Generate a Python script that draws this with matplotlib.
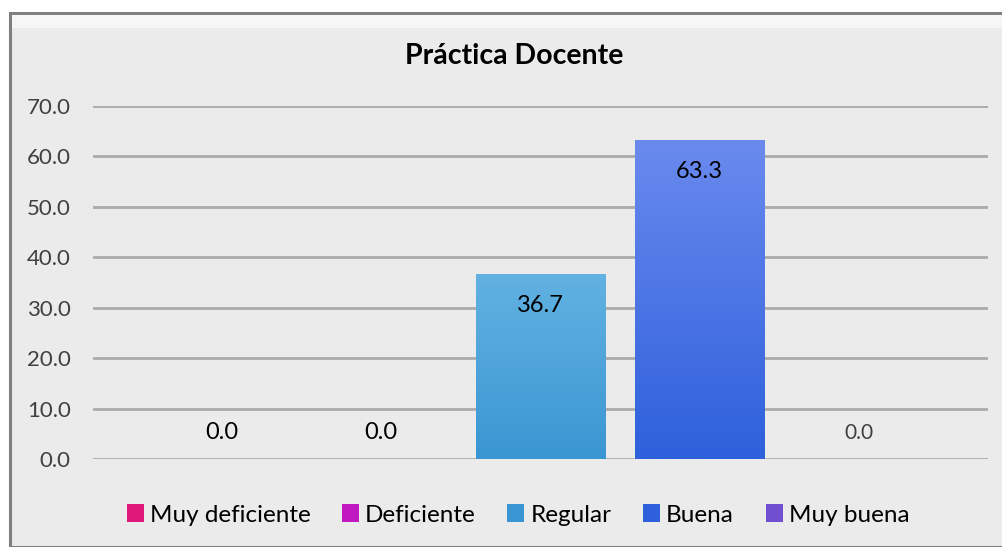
import numpy as np
import matplotlib.pyplot as plt
from matplotlib.patches import Rectangle
from matplotlib.colors import LinearSegmentedColormap

# datos
categorias = ["Muy deficiente", "Deficiente", "Regular", "Buena", "Muy buena"]
valores = [0.0, 0.0, 36.7, 63.3, 0.0]
etiquetas_y = [0, 10, 20, 30, 40, 50, 60, 70]
colores_arriba = ["#F0509A", "#D24CD6", "#62B2E2", "#6A8AEE", "#9070E0"]
colores_abajo = ["#E0187A", "#C018C0", "#3A96D2", "#2E60DC", "#7050D0"]

plt.rcParams['font.family'] = ['Lato', 'DejaVu Sans']

fig = plt.figure(figsize=(10.03, 5.47), dpi=100)
fig.patch.set_facecolor("white")

# marco del gráfico
marco = Rectangle((10 / 1003, 0), 1.2, 1 - 13 / 547, transform=fig.transFigure,
                  facecolor="#EBEBEB", edgecolor="#7F7F7F", linewidth=2.2, zorder=-5)
fig.patches.append(marco)
brillo = Rectangle((12 / 1003, 1 - 28 / 547), 1.2, 13 / 547, transform=fig.transFigure,
                   facecolor="#F6F6F6", edgecolor="none", zorder=-4)
fig.patches.append(brillo)

ax = fig.add_axes([93 / 1003, 1 - 459 / 547, (988 - 93) / 1003, (459 - 106) / 547])
ax.set_facecolor("none")

x = np.arange(len(categorias))
ancho = 0.815
barras = ax.bar(x, valores, width=ancho, color="none", zorder=2)

grad = np.linspace(0, 1, 256).reshape(-1, 1)
for i, b in enumerate(barras):
    if valores[i] <= 0:
        continue
    cmap = LinearSegmentedColormap.from_list("g", [colores_abajo[i], colores_arriba[i]])
    img = ax.imshow(grad, cmap=cmap, origin="lower", aspect="auto",
                    extent=[b.get_x(), b.get_x() + b.get_width(), 0, b.get_height()],
                    zorder=2)
    img.set_clip_path(b)

for i, v in enumerate(valores):
    if v > 0:
        ax.annotate(f"{v:.1f}", (x[i], v), xytext=(0, -22.5), textcoords="offset points",
                    ha="center", va="center", fontsize=17, color="black", zorder=3)
    elif i < 2:
        ax.annotate(f"{v:.1f}", (x[i], v), xytext=(0, 19), textcoords="offset points",
                    ha="center", va="center", fontsize=17, color="black", zorder=3)
    else:
        ax.annotate(f"{v:.1f}", (x[i], v), xytext=(0, 19), textcoords="offset points",
                    ha="center", va="center", fontsize=15, color="#404040", zorder=3)

ax.set_xlim(-0.81, 4.81)
ax.set_ylim(0, 70)
ax.set_yticks(etiquetas_y)
ax.set_yticklabels([f"{t:.1f}" for t in etiquetas_y], fontsize=16, color="#404040")
ax.set_xticks([])
ax.tick_params(axis="y", length=0, pad=16)
ax.grid(axis="y", color="#ABABAB", linewidth=2, zorder=1)
for s in ax.spines.values():
    s.set_visible(False)

fig.text(514 / 1003, 1 - 56 / 547, "Práctica Docente", ha="center", va="center",
         fontsize=20.5, fontweight="bold", color="black")

handles = [Rectangle((0, 0), 1, 1, facecolor=c) for c in colores_abajo]
fig.legend(handles, categorias, loc="center", bbox_to_anchor=(518 / 1003, 1 - 515 / 547),
           ncol=5, frameon=False, fontsize=17.5, handlelength=0.7, handleheight=0.7,
           handletextpad=0.25, columnspacing=1.3)

fig.savefig("out.png", dpi=100, facecolor="white")
